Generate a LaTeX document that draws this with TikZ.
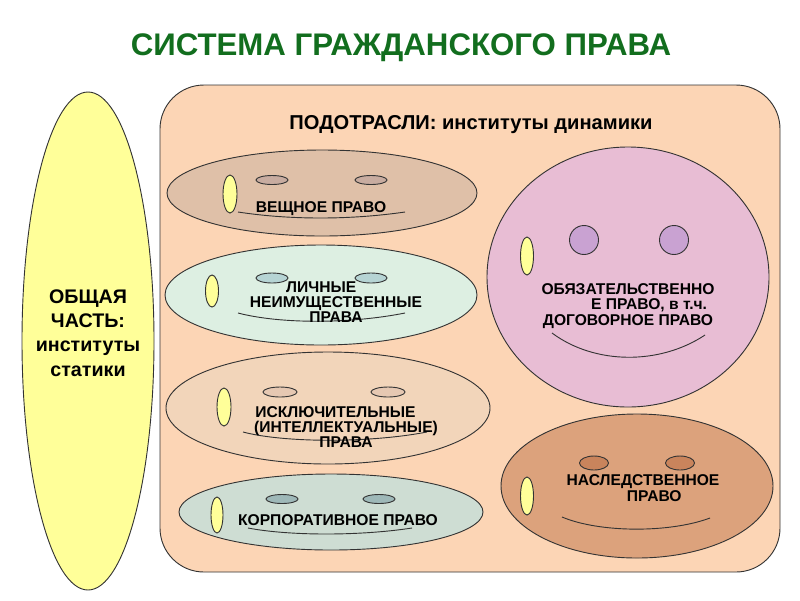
\documentclass[tikz,border=0pt]{standalone}
\usepackage{fontspec}
\setmainfont{Liberation Sans}
\usetikzlibrary{positioning}

\definecolor{titlegreen}{RGB}{18,110,30}
\definecolor{peach}{RGB}{252,213,181}
\definecolor{paleyellow}{RGB}{255,255,153}
\definecolor{tan}{RGB}{223,192,168}
\definecolor{tanEye}{RGB}{200,172,160}
\definecolor{mint}{RGB}{221,239,226}
\definecolor{mintEye}{RGB}{182,212,212}
\definecolor{lightpeach}{RGB}{242,213,186}
\definecolor{lightpeachEye}{RGB}{230,200,178}
\definecolor{grayteal}{RGB}{206,221,211}
\definecolor{graytealEye}{RGB}{158,184,184}
\definecolor{pinkface}{RGB}{232,189,212}
\definecolor{pinkEye}{RGB}{201,162,210}
\definecolor{brownface}{RGB}{220,162,124}
\definecolor{brownEye}{RGB}{201,132,92}

\tikzset{
  outline/.style={draw=black!80, line width=0.65pt},
  cheek/.style={outline, fill=paleyellow},
  mouth/.style={draw=black!80, line width=0.65pt},
  lbl/.style={font=\bfseries\fontsize{11.1}{10.9}\selectfont, align=center, inner sep=0pt},
}

\begin{document}
\begin{tikzpicture}[x=0.025cm, y=-0.025cm]
\useasboundingbox (0,0) rectangle (800,600);
\fill[white] (0,0) rectangle (800,600);

% заголовок
\node[font=\bfseries\fontsize{22.2}{24}\selectfont, text=titlegreen] (title) at (401,48) {СИСТЕМА ГРАЖДАНСКОГО ПРАВА};

% общая часть
\draw[outline, fill=paleyellow] (88,341) ellipse [x radius=66, y radius=249];
\node[font=\bfseries\fontsize{14}{17.3}\selectfont, align=center, inner sep=0pt] (general) at (88,333) {ОБЩАЯ\\ЧАСТЬ:\\институты\\статики};

% подотрасли
\draw[outline, fill=peach, rounded corners=1.1cm] (160,85) rectangle (780,572);
\node[font=\bfseries\fontsize{14.3}{16}\selectfont] (branches) at (471,125) {ПОДОТРАСЛИ: институты динамики};

% вещное право
\draw[outline, fill=tan] (322,193) ellipse [x radius=155, y radius=43];
\foreach \ex in {272,371}
  \draw[outline, fill=tanEye] (\ex,180) ellipse [x radius=16, y radius=4.5];
\draw[cheek] (230,194) ellipse [x radius=7, y radius=19];
\draw[mouth] (238,212) .. controls (290,220) and (350,220) .. (405,212);
\node[lbl] (real) at (321,209) {ВЕЩНОЕ ПРАВО};

% личные неимущественные права
\draw[outline, fill=mint] (321,295) ellipse [x radius=156, y radius=50];
\foreach \ex in {272,371}
  \draw[outline, fill=mintEye] (\ex,278) ellipse [x radius=16, y radius=5];
\draw[cheek] (212,291) ellipse [x radius=6.5, y radius=16];
\draw[mouth] (238,313) .. controls (280,324) and (350,324) .. (405,313);
\node[lbl] (personal) at (336,302) {ЛИЧНЫЕ\hspace*{21pt}\\НЕИМУЩЕСТВЕННЫЕ\\ПРАВА};

% исключительные права
\draw[outline, fill=lightpeach] (328,408) ellipse [x radius=162, y radius=56];
\foreach \ex in {280,388}
  \draw[outline, fill=lightpeachEye] (\ex,392) ellipse [x radius=17, y radius=5];
\draw[cheek] (224,407) ellipse [x radius=7, y radius=19];
\draw[mouth] (243,432) .. controls (285,443) and (370,443) .. (427,432);
\node[lbl] (exclusive) at (346,427) {ИСКЛЮЧИТЕЛЬНЫЕ\hspace*{15pt}\\(ИНТЕЛЛЕКТУАЛЬНЫЕ)\\ПРАВА};

% корпоративное право
\draw[outline, fill=grayteal] (331,512) ellipse [x radius=152, y radius=38];
\foreach \ex in {282,379}
  \draw[outline, fill=graytealEye] (\ex,499) ellipse [x radius=16, y radius=4.5];
\draw[cheek] (217,515) ellipse [x radius=6, y radius=18];
\draw[mouth] (248,528) .. controls (290,536) and (360,536) .. (412,528);
\node[lbl] (corporate) at (338,520) {КОРПОРАТИВНОЕ ПРАВО};

% обязательственное право
\draw[outline, fill=pinkface] (628,277) ellipse [x radius=141, y radius=130];
\foreach \ex in {584,674}
  \draw[outline, fill=pinkEye] (\ex,240) circle [radius=14.5];
\draw[cheek] (527,256) ellipse [x radius=6.5, y radius=19];
\draw[mouth] (552,333) .. controls (595,365) and (660,365) .. (705,335);
\node[lbl] (obligation) at (628,306) {ОБЯЗАТЕЛЬСТВЕННО\\\hspace*{30pt}Е ПРАВО, в т.ч.\\ДОГОВОРНОЕ ПРАВО};

% наследственное право
\draw[outline, fill=brownface] (637,486) ellipse [x radius=136, y radius=72];
\foreach \ex in {594,680}
  \draw[outline, fill=brownEye] (\ex,463) ellipse [x radius=14.5, y radius=7];
\draw[cheek] (527,496) ellipse [x radius=6.5, y radius=19];
\draw[mouth] (562,517) .. controls (600,533) and (670,533) .. (710,518);
\node[lbl] (inheritance) at (643,488) {НАСЛЕДСТВЕННОЕ\\\hspace*{16pt}ПРАВО};
\end{tikzpicture}
\end{document}
